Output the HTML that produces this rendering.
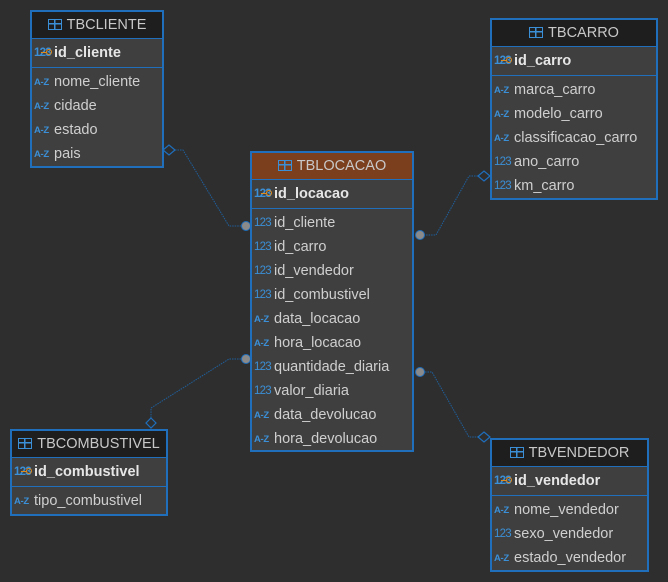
<!DOCTYPE html>
<html><head><meta charset="utf-8"><style>
body{margin:0;width:668px;height:582px;background:#2e2e2e;position:relative;overflow:hidden;font-family:"Liberation Sans",sans-serif;}
.t{position:absolute;border:2px solid #1f6fbd;background:#3f3f3f;box-sizing:border-box;}
.h{height:26px;background:#1e1e1e;border-bottom:1px solid #1f6fbd;color:#c8c8c8;font-size:14.5px;line-height:26px;text-align:center;white-space:nowrap;}
.h.o{background:#7b3f1e;}
.ti{display:inline-block;width:14px;height:11px;border:1.5px solid #3b8fd6;box-sizing:border-box;vertical-align:-1px;margin-right:5px;background:linear-gradient(#3b8fd6,#3b8fd6) 0 3px/100% 1.5px no-repeat,linear-gradient(#3b8fd6,#3b8fd6) 5px 0/1.5px 100% no-repeat;}
.pk{height:28px;border-bottom:1px solid #1f6fbd;line-height:28px;color:#e6e6e6;font-weight:bold;font-size:14.5px;padding-left:2px;}
.rows{padding-top:2px;}
.r{height:24px;line-height:24px;color:#cfcfcf;font-size:14.5px;padding-left:2px;white-space:nowrap;}
.i{display:inline-block;width:18px;font-size:11.5px;color:#3b8fd6;margin-right:2px;position:relative;letter-spacing:-0.8px;vertical-align:1px;}
.a{font-size:9.5px;font-weight:bold;letter-spacing:-0.3px;}
.k:after{content:"";position:absolute;left:12px;top:10px;width:4px;height:4px;border:1.2px solid #e08a1c;border-radius:50%;}
.k:before{content:"";position:absolute;left:7px;top:13px;width:6px;height:1.2px;background:#e08a1c;}
</style></head><body>
<svg width="668" height="582" style="position:absolute;left:0;top:0" >
<g stroke="#1f5f9c" stroke-width="1" fill="none" stroke-dasharray="1.5,1">
<polyline points="175,150 183,150 229,226 246,226"/>
<polyline points="478,176 469,176 436,235 420,235"/>
<polyline points="246,359 229,359 151,408 151,418"/>
<polyline points="420,372 432,372 469,437 478,437"/>
</g>
<g stroke="#1f6fbd" stroke-width="1.2" fill="#2e2e2e">
<polygon points="163,150 169,145 175,150 169,155"/>
<polygon points="478,176 484,171 490,176 484,181"/>
<polygon points="151,418 156,423 151,428 146,423"/>
<polygon points="478,437 484,432 490,437 484,442"/>
</g>
<g fill="#8a8a8a" stroke="#1f6fbd" stroke-width="1">
<circle cx="246" cy="226" r="4.5"/><circle cx="420" cy="235" r="4.5"/>
<circle cx="246" cy="359" r="4.5"/><circle cx="420" cy="372" r="4.5"/>
</g>
</svg>

<div class="t" style="left:30px;top:10px;width:134px;height:158px">
<div class="h"><span class="ti"></span>TBCLIENTE</div>
<div class="pk"><span class="i k">123</span>id_cliente</div>
<div class="rows">
<div class="r"><span class="i a">A-Z</span>nome_cliente</div>
<div class="r"><span class="i a">A-Z</span>cidade</div>
<div class="r"><span class="i a">A-Z</span>estado</div>
<div class="r"><span class="i a">A-Z</span>pais</div>
</div></div>

<div class="t" style="left:490px;top:18px;width:168px;height:182px">
<div class="h"><span class="ti"></span>TBCARRO</div>
<div class="pk"><span class="i k">123</span>id_carro</div>
<div class="rows">
<div class="r"><span class="i a">A-Z</span>marca_carro</div>
<div class="r"><span class="i a">A-Z</span>modelo_carro</div>
<div class="r"><span class="i a">A-Z</span>classificacao_carro</div>
<div class="r"><span class="i">123</span>ano_carro</div>
<div class="r"><span class="i">123</span>km_carro</div>
</div></div>

<div class="t" style="left:250px;top:151px;width:164px;height:301px">
<div class="h o"><span class="ti"></span>TBLOCACAO</div>
<div class="pk"><span class="i k">123</span>id_locacao</div>
<div class="rows">
<div class="r"><span class="i">123</span>id_cliente</div>
<div class="r"><span class="i">123</span>id_carro</div>
<div class="r"><span class="i">123</span>id_vendedor</div>
<div class="r"><span class="i">123</span>id_combustivel</div>
<div class="r"><span class="i a">A-Z</span>data_locacao</div>
<div class="r"><span class="i a">A-Z</span>hora_locacao</div>
<div class="r"><span class="i">123</span>quantidade_diaria</div>
<div class="r"><span class="i">123</span>valor_diaria</div>
<div class="r"><span class="i a">A-Z</span>data_devolucao</div>
<div class="r"><span class="i a">A-Z</span>hora_devolucao</div>
</div></div>

<div class="t" style="left:10px;top:429px;width:158px;height:87px">
<div class="h"><span class="ti"></span>TBCOMBUSTIVEL</div>
<div class="pk"><span class="i k">123</span>id_combustivel</div>
<div class="rows">
<div class="r"><span class="i a">A-Z</span>tipo_combustivel</div>
</div></div>

<div class="t" style="left:490px;top:438px;width:159px;height:134px">
<div class="h"><span class="ti"></span>TBVENDEDOR</div>
<div class="pk"><span class="i k">123</span>id_vendedor</div>
<div class="rows">
<div class="r"><span class="i a">A-Z</span>nome_vendedor</div>
<div class="r"><span class="i">123</span>sexo_vendedor</div>
<div class="r"><span class="i a">A-Z</span>estado_vendedor</div>
</div></div>
</body></html>
